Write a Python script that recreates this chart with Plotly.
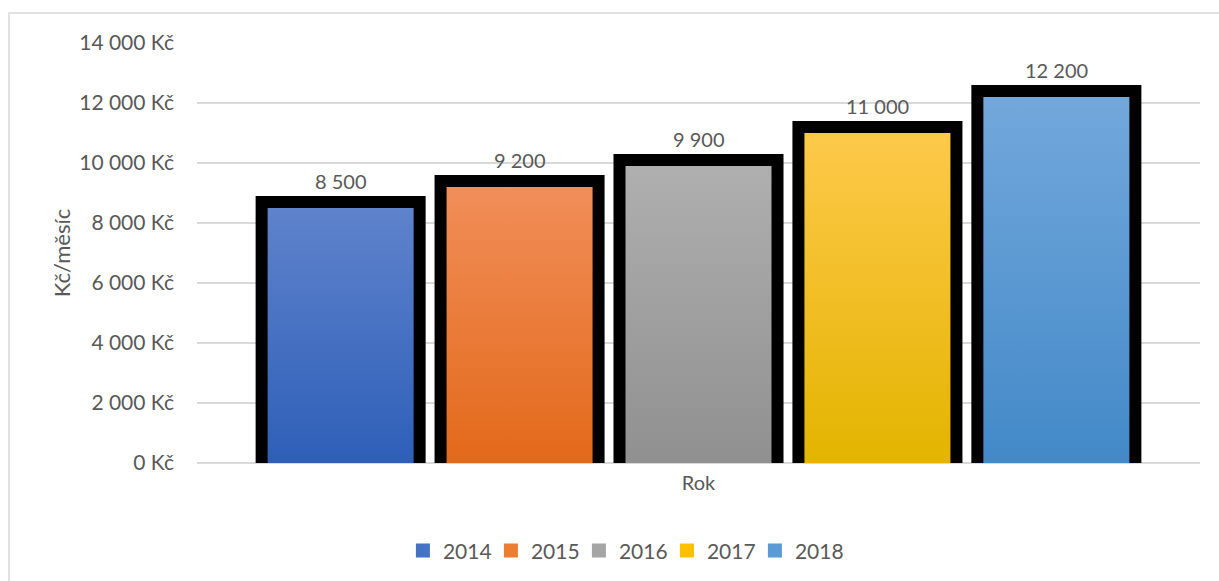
import plotly.graph_objects as go

# Average monthly amount per year
years = ["2014", "2015", "2016", "2017", "2018"]
values = [8500, 9200, 9900, 11000, 12200]
top_colors = ["#5f83cc", "#f18e59", "#afafaf", "#fdc94a", "#72a8dc"]
bottom_colors = ["#2e5fb8", "#e3691a", "#909090", "#e4b400", "#4389c8"]
base_colors = ["#4472c4", "#ed7d31", "#a5a5a5", "#ffc000", "#5b9bd5"]
category = "Rok"

y_ticks = [0, 2000, 4000, 6000, 8000, 10000, 12000, 14000]
y_ticktext = ["0 Kč", "2 000 Kč", "4 000 Kč", "6 000 Kč", "8 000 Kč",
              "10 000 Kč", "12 000 Kč", "14 000 Kč"]

FONT = "Lato, Open Sans, sans-serif"
TEXT_COLOR = "#595959"
BARGAP = 0.108
BARGROUPGAP = 0.184

n = len(years)
slot = (1 - BARGAP) / n
bar_w = slot * (1 - BARGROUPGAP)

fig = go.Figure()

for i, (year, val) in enumerate(zip(years, values)):
    # Thick black frame; its inner half is covered by the gradient fill below
    fig.add_trace(go.Bar(
        name=year,
        x=[0],
        y=[val],
        marker=dict(color=base_colors[i], line=dict(color="black", width=24)),
        cliponaxis=True,
        showlegend=False,
        hoverinfo="skip",
    ))

for i, (year, val) in enumerate(zip(years, values)):
    # Vertical gradient fill covering the bar body
    cx = (i - (n - 1) / 2) * slot
    x0, x1 = cx - bar_w / 2, cx + bar_w / 2
    fig.add_trace(go.Scatter(
        x=[x0, x1, x1, x0, x0],
        y=[0, 0, val, val, 0],
        mode="lines",
        line=dict(width=0),
        fill="toself",
        fillgradient=dict(type="vertical",
                          colorscale=[[0, bottom_colors[i]], [1, top_colors[i]]]),
        showlegend=False,
        hoverinfo="skip",
    ))
    fig.add_annotation(
        x=cx, y=val, xref="x", yref="y",
        text=f"{val:,}".replace(",", " "),
        showarrow=False, yanchor="bottom", yshift=13,
        font=dict(family=FONT, size=20, color=TEXT_COLOR),
    )

# Legend entries drawn as plain square swatches
for year, col in zip(years, base_colors):
    fig.add_trace(go.Scatter(
        name=year,
        x=[None], y=[None],
        mode="markers",
        marker=dict(symbol="square", size=14, color=col),
        showlegend=True,
    ))

fig.update_layout(
    width=1219, height=581,
    margin=dict(l=197, r=19, t=43, b=118, autoexpand=False),
    paper_bgcolor="white",
    plot_bgcolor="white",
    barmode="group",
    bargap=BARGAP,
    bargroupgap=BARGROUPGAP,
    font=dict(family=FONT, size=20, color=TEXT_COLOR),
    xaxis=dict(
        range=[-0.5, 0.5],
        tickvals=[0], ticktext=[category],
        showgrid=False, showline=False, zeroline=False,
        ticks="", tickfont=dict(size=20, color=TEXT_COLOR),
        ticklabelstandoff=6,
        automargin=False, fixedrange=True,
    ),
    yaxis=dict(
        range=[0, 14000],
        tickvals=y_ticks, ticktext=y_ticktext,
        showgrid=True, gridcolor="#d9d9d9", gridwidth=1.5,
        zeroline=True, zerolinecolor="#d9d9d9", zerolinewidth=2,
        showline=False, ticks="",
        ticklabelstandoff=22,
        tickfont=dict(size=21, color=TEXT_COLOR),
        title=dict(text="Kč/měsíc", font=dict(size=22, color=TEXT_COLOR), standoff=2),
        automargin=False, fixedrange=True,
    ),
    legend=dict(
        orientation="h",
        yref="container", xref="container",
        x=0.511, xanchor="center",
        y=0.052, yanchor="middle",
        font=dict(size=21, color=TEXT_COLOR),
        itemwidth=30,
        entrywidth=43, entrywidthmode="pixels",
        tracegroupgap=0,
    ),
    shapes=[dict(
        type="rect", xref="paper", yref="paper",
        x0=-0.1874, x1=1.05, y0=-0.35, y1=1.0714,
        line=dict(color="#d9d9d9", width=1.5),
        fillcolor="rgba(0,0,0,0)", layer="below",
    )],
)

fig.write_html("out.html")
